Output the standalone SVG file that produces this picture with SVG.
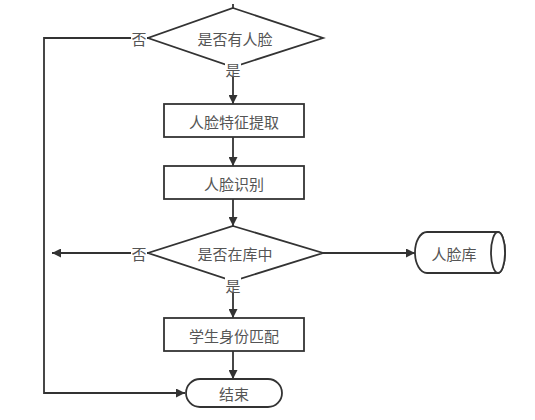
<svg xmlns="http://www.w3.org/2000/svg" width="535" height="420" viewBox="0 0 535 420">
<defs>
<style>
.s{fill:#fff;stroke:#333;stroke-width:1.8}
.c{fill:none;stroke:#333;stroke-width:1.8}
text{font-family:"Noto Sans CJK SC","Liberation Sans",sans-serif;font-size:15px;fill:#555;text-anchor:middle;dominant-baseline:central}
.lb{fill:#fff}
</style>
<marker id="a" viewBox="0 0 10 10" refX="10" refY="5" markerWidth="10" markerHeight="9" markerUnits="userSpaceOnUse" orient="auto">
<path d="M0,0 L10,5 L0,10 Z" fill="#333"/>
</marker>
</defs>
<rect width="535" height="420" fill="#fff"/>
<g id="connectors">
<path class="c" d="M233,4 V8"/>
<path class="c" d="M148,38 H44 V393 H185" marker-end="url(#a)"/>
<path class="c" d="M233,67 V104" marker-end="url(#a)"/>
<path class="c" d="M233,137 V166" marker-end="url(#a)"/>
<path class="c" d="M233,199 V226" marker-end="url(#a)"/>
<path class="c" d="M148,253 H52" marker-end="url(#a)"/>
<path class="c" d="M323,253 H415" marker-end="url(#a)"/>
<path class="c" d="M233,281 V318" marker-end="url(#a)"/>
<path class="c" d="M233,351 V379" marker-end="url(#a)"/>
</g>
<g id="d1">
<path class="s" d="M233,8 L323,38 L233,67 L148,38 Z"/>
<text x="235" y="38">是否有人脸</text>
</g>
<g id="l1">
<rect class="lb" x="131" y="29" width="16" height="18"/>
<text x="139" y="38">否</text>
<rect class="lb" x="225" y="61" width="16" height="16"/>
<text x="233" y="69">是</text>
</g>
<g id="r1">
<rect class="s" x="164" y="104" width="140" height="33"/>
<text x="234" y="121">人脸特征提取</text>
</g>
<g id="r2">
<rect class="s" x="164" y="166" width="140" height="33"/>
<text x="234" y="183">人脸识别</text>
</g>
<g id="d2">
<path class="s" d="M233,226 L323,253 L233,281 L148,253 Z"/>
<text x="235" y="253">是否在库中</text>
</g>
<g id="l2">
<rect class="lb" x="131" y="244" width="16" height="18"/>
<text x="139" y="253">否</text>
<rect class="lb" x="225" y="277" width="16" height="16"/>
<text x="233" y="285">是</text>
</g>
<g id="db">
<path class="s" d="M427,232 H498 A7,20.5 0 0 1 498,273 H427 A12,20.5 0 0 1 427,232 Z"/>
<ellipse class="s" cx="498" cy="252.5" rx="7" ry="20.5"/>
<text x="454" y="253">人脸库</text>
</g>
<g id="r3">
<rect class="s" x="164" y="318" width="140" height="33"/>
<text x="234" y="335">学生身份匹配</text>
</g>
<g id="end">
<rect class="s" x="186" y="379" width="96" height="28" rx="14"/>
<text x="234" y="393">结束</text>
</g>
</svg>
